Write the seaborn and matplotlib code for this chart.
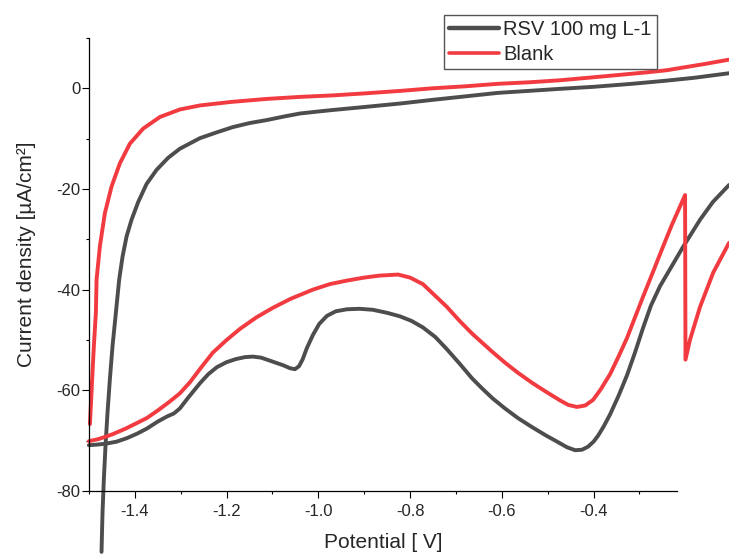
import numpy as np
import pandas as pd
import seaborn as sns
import matplotlib.pyplot as plt
from matplotlib.ticker import MultipleLocator

# RSV 100 mg L-1, upper branch
rsv_up_x = [-1.4727, -1.4705, -1.4676, -1.464, -1.4596, -1.4545, -1.4487, -1.4414,
            -1.4342, -1.4268, -1.418, -1.4072, -1.3928, -1.3745, -1.3527, -1.3274,
            -1.3019, -1.2728, -1.2582, -1.22, -1.1863, -1.15, -1.1121, -1.075,
            -1.0401, -1.0, -0.9682, -0.8984, -0.82, -0.7522, -0.68, -0.6083,
            -0.54, -0.473, -0.40, -0.316, -0.2441, -0.18, -0.1045]
rsv_up_y = [-92.1, -84.2, -77.6, -71.0, -64.4, -57.8, -51.2, -44.6,
            -38.0, -33.4, -29.4, -26.1, -22.6, -19.0, -16.2, -13.8,
            -12.0, -10.6, -9.9, -8.7, -7.7, -6.9, -6.3, -5.6,
            -5.0, -4.6, -4.3, -3.7, -3.0, -2.3, -1.6, -0.9,
            -0.5, -0.1, 0.3, 0.9, 1.5, 2.1, 3.0]

# RSV 100 mg L-1, lower branch
rsv_low_x = [-1.5003, -1.485, -1.4633, -1.44, -1.4174, -1.395, -1.3738, -1.35,
             -1.330, -1.315, -1.3019, -1.285, -1.2582, -1.24, -1.2212, -1.20,
             -1.18, -1.16, -1.1426, -1.125, -1.1121, -1.09, -1.0772, -1.062,
             -1.051, -1.042, -1.034, -1.025, -1.0118, -0.998, -0.9812, -0.962,
             -0.938, -0.91, -0.881, -0.85, -0.822, -0.797, -0.772, -0.745,
             -0.72, -0.691, -0.665, -0.6432, -0.62, -0.593, -0.565, -0.5341,
             -0.505, -0.4774, -0.458, -0.44, -0.425, -0.412, -0.400, -0.390,
             -0.378, -0.364, -0.345, -0.327, -0.31, -0.292, -0.275, -0.255,
             -0.2048, -0.1677, -0.14, -0.1045]
rsv_low_y = [-70.9, -70.8, -70.6, -70.2, -69.5, -68.6, -67.6, -66.2,
             -65.2, -64.6, -63.6, -61.6, -58.6, -56.8, -55.4, -54.4,
             -53.8, -53.4, -53.3, -53.5, -53.9, -54.6, -55.0, -55.6,
             -55.8, -55.2, -53.8, -51.6, -49.0, -46.8, -45.2, -44.3,
             -43.9, -43.8, -44.0, -44.6, -45.3, -46.2, -47.5, -49.4,
             -51.8, -54.8, -57.6, -59.6, -61.6, -63.6, -65.5, -67.3,
             -68.9, -70.3, -71.3, -71.9, -71.8, -71.2, -70.2, -69.0,
             -67.2, -64.8, -61.0, -57.0, -52.6, -47.6, -43.2, -39.3,
             -31.5, -26.1, -22.6, -19.2]

# Blank, upper branch
blank_up_x = [-1.498, -1.496, -1.4931, -1.4894, -1.485, -1.4835, -1.4763, -1.4654,
              -1.4508, -1.4327, -1.4109, -1.3819, -1.3455, -1.3019, -1.2582, -1.19,
              -1.1121, -1.04, -0.9682, -0.8984, -0.82, -0.7522, -0.68, -0.6083,
              -0.54, -0.473, -0.40, -0.34, -0.2811, -0.24, -0.207, -0.16, -0.1045]
blank_up_y = [-66.7, -63.1, -57.8, -51.2, -44.6, -38.0, -31.4, -24.8,
              -19.5, -14.9, -11.0, -8.0, -5.7, -4.2, -3.4, -2.7,
              -2.1, -1.7, -1.4, -1.0, -0.5, 0.0, 0.4, 0.9,
              1.2, 1.6, 2.2, 2.7, 3.2, 3.6, 4.1, 4.8, 5.7]

# Blank, lower branch (with the jump at the vertex)
blank_low_x = [-1.5003, -1.48, -1.4633, -1.448, -1.42, -1.3957, -1.3738, -1.35,
               -1.325, -1.3019, -1.28, -1.255, -1.2299, -1.20, -1.171, -1.135,
               -1.099, -1.06, -1.012, -0.975, -0.938, -0.90, -0.866, -0.826,
               -0.80, -0.772, -0.75, -0.72, -0.691, -0.665, -0.6432, -0.62,
               -0.593, -0.565, -0.5341, -0.505, -0.473, -0.455, -0.436, -0.418,
               -0.401, -0.385, -0.364, -0.345, -0.327, -0.31, -0.292, -0.27,
               -0.25, -0.23, -0.2004, -0.1995, -0.1895, -0.1677, -0.139, -0.1045]
blank_low_y = [-70.1, -69.7, -69.2, -68.7, -67.6, -66.5, -65.5, -64.0,
               -62.3, -60.6, -58.4, -55.4, -52.5, -50.0, -47.8, -45.5,
               -43.6, -41.8, -40.0, -38.9, -38.2, -37.6, -37.2, -37.0,
               -37.6, -38.9, -40.8, -43.4, -46.3, -48.7, -50.5, -52.4,
               -54.5, -56.5, -58.5, -60.2, -62.0, -62.9, -63.3, -63.0,
               -61.9, -59.9, -56.8, -53.2, -49.6, -45.6, -41.4, -36.4,
               -31.8, -27.3, -21.2, -53.9, -49.9, -43.4, -36.6, -30.7]

labels = ["RSV 100 mg L-1", "Blank"]
colors = ["#4d4d4d", "#f23b40"]

frames = []
for name, part, xs, ys in [
    (labels[0], "up", rsv_up_x, rsv_up_y),
    (labels[0], "low", rsv_low_x, rsv_low_y),
    (labels[1], "up", blank_up_x, blank_up_y),
    (labels[1], "low", blank_low_x, blank_low_y),
]:
    frames.append(pd.DataFrame({"potential": xs, "current": ys,
                                "sample": name, "branch": part}))
df = pd.concat(frames, ignore_index=True)

sns.set_style("ticks")
plt.rcParams["font.family"] = ["Liberation Sans", "DejaVu Sans"]
plt.rcParams["axes.unicode_minus"] = False

fig = plt.figure(figsize=(7.29, 5.54), dpi=100)
ax = fig.add_axes([89 / 729, 63 / 554, 588 / 729, 453 / 554])

sns.lineplot(data=df, x="potential", y="current", hue="sample", hue_order=labels,
             units="branch", estimator=None, sort=False, palette=colors,
             linewidth=2.8, ax=ax)

for line in ax.lines:
    line.set_clip_on(False)
    line.set_solid_capstyle("round")
    line.set_solid_joinstyle("round")

ax.set_xlim(-1.5, -0.218)
ax.set_ylim(-80, 10)
ax.xaxis.set_major_locator(MultipleLocator(0.2))
ax.xaxis.set_minor_locator(MultipleLocator(0.1))
ax.yaxis.set_major_locator(MultipleLocator(20))
ax.yaxis.set_minor_locator(MultipleLocator(10))
ax.tick_params(which="major", direction="out", length=5, width=0.8, labelsize=12,
               color="black")
ax.tick_params(which="minor", direction="out", length=2.5, width=0.8, color="black")
ax.tick_params(axis="x", pad=4)
ax.tick_params(axis="y", pad=1)
sns.despine(ax=ax)
for s in ["left", "bottom"]:
    ax.spines[s].set_linewidth(0.9)
    ax.spines[s].set_color("black")

ax.set_xlabel("Potential [ V]", fontsize=15)
ax.set_ylabel("Current density [µA/cm²]", fontsize=15)
ax.xaxis.set_label_coords(0.5, -0.093)
ax.yaxis.set_label_coords(-0.09, 0.523)

handles, labs = ax.get_legend_handles_labels()
leg = ax.legend(handles, labs, loc="upper left", bbox_to_anchor=(0.6037, 1.0508),
                borderaxespad=0, borderpad=0.25, handlelength=2.5, handletextpad=0.2,
                labelspacing=0.3, fontsize=14.5, fancybox=False, framealpha=1)
leg.get_frame().set_edgecolor("#555555")
leg.get_frame().set_linewidth(1.0)
for h, w in zip(leg.get_lines(), [3.2, 2.6]):
    h.set_linewidth(w)

plt.savefig("out.png", dpi=100)
